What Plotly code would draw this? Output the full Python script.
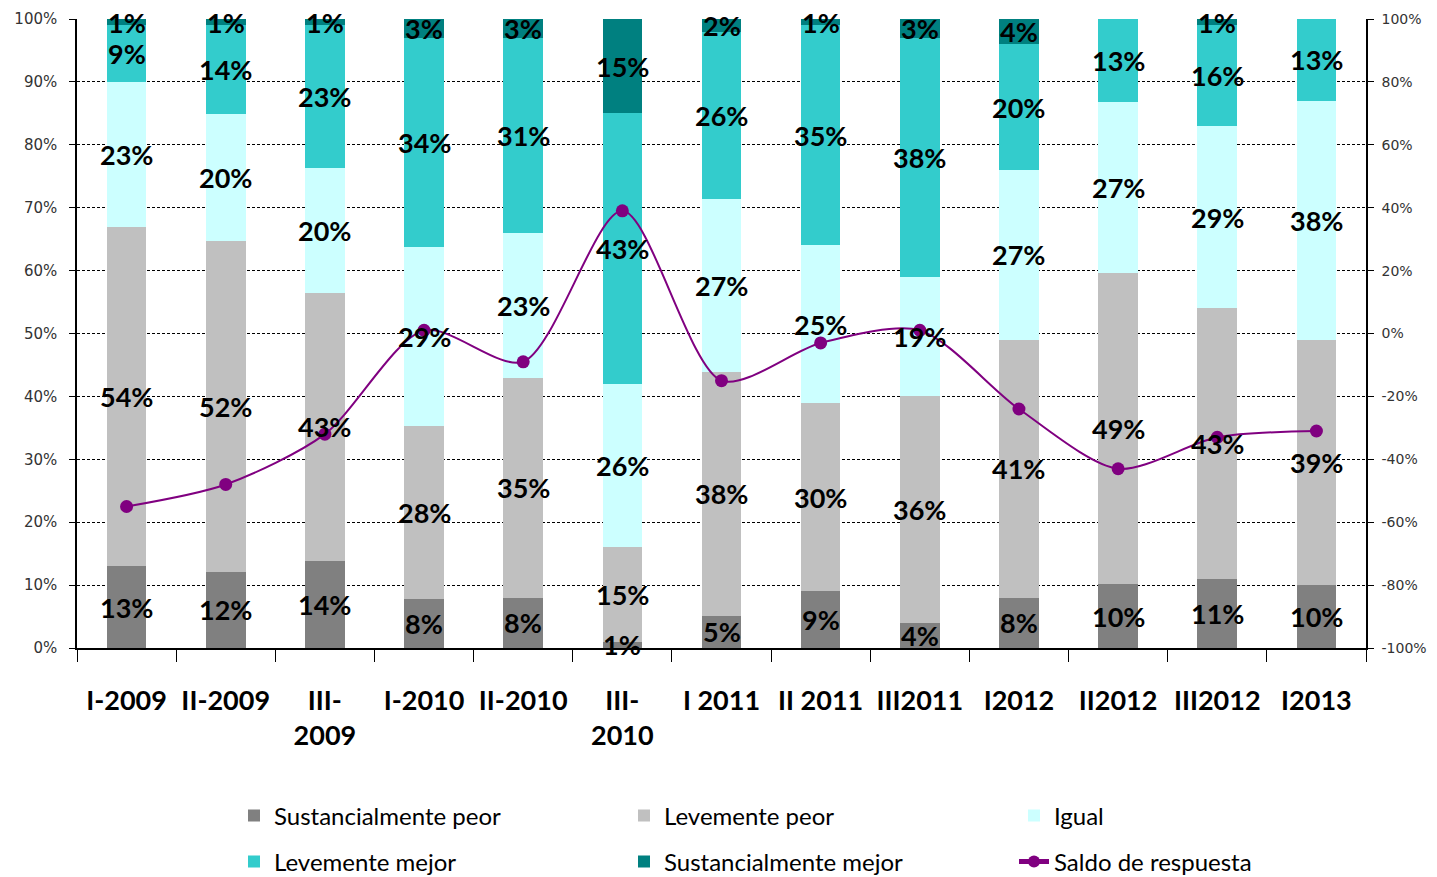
import plotly.graph_objects as go

# Expectativas: distribucion de respuestas por trimestre
periodos = ["I-2009", "II-2009", "III-2009", "I-2010", "II-2010", "III-2010", "I 2011",
            "II 2011", "III2011", "I2012", "II2012", "III2012", "I2013"]
etiquetas_x = ["I-2009", "II-2009", "III-<br>2009", "I-2010", "II-2010", "III-<br>2010", "I 2011",
               "II 2011", "III2011", "I2012", "II2012", "III2012", "I2013"]

sust_peor = [13, 12, 14, 8, 8, 1, 5, 9, 4, 8, 10, 11, 10]
lev_peor = [54, 52, 43, 28, 35, 15, 38, 30, 36, 41, 49, 43, 39]
igual = [23, 20, 20, 29, 23, 26, 27, 25, 19, 27, 27, 29, 38]
lev_mejor = [9, 14, 23, 34, 31, 43, 26, 35, 38, 20, 13, 16, 13]
sust_mejor = [1, 1, 1, 3, 3, 15, 2, 1, 3, 4, 0, 1, 0]

saldo = [-55, -48, -32, 1, -9, 39, -15, -3, 1, -24, -43, -33, -31]

ticks_izq = [0, 10, 20, 30, 40, 50, 60, 70, 80, 90, 100]
ticks_der = [-100, -80, -60, -40, -20, 0, 20, 40, 60, 80, 100]
etiquetas_der = ["-100%", "-80%", "-60%", "-40%", "-20%", "0%", "20%", "40%", "60%", "80%", "100%"]

# nombre, valores, color, leyenda (fila)
series = [
    ("Sustancialmente peor", sust_peor, "#808080", "legend"),
    ("Levemente peor", lev_peor, "#C0C0C0", "legend"),
    ("Igual", igual, "#CCFFFF", "legend"),
    ("Levemente mejor", lev_mejor, "#33CCCC", "legend2"),
    ("Sustancialmente mejor", sust_mejor, "#008080", "legend2"),
]

fig = go.Figure()

for nombre, valores, color, ley in series:
    fig.add_trace(go.Bar(
        name=nombre, x=periodos, y=valores, legend=ley,
        marker=dict(color=color, line=dict(width=0)),
    ))

fig.add_trace(go.Scatter(
    name="Saldo de respuesta", x=periodos, y=saldo, yaxis="y2", legend="legend2",
    mode="lines+markers",
    line=dict(color="#800080", width=2, shape="spline", smoothing=0.8),
    marker=dict(color="#800080", size=13),
    cliponaxis=False,
))

# etiquetas de datos centradas en cada segmento (barras normalizadas a 100%)
for i, p in enumerate(periodos):
    total = sum(s[1][i] for s in series)
    acum = 0
    for nombre, valores, color, ley in series:
        v = valores[i]
        if v > 0:
            fig.add_annotation(
                x=p, y=(acum + v / 2) / total * 100, xref="x", yref="y",
                text=f"{v}%", showarrow=False,
                font=dict(family="Lato", size=27, color="black", weight="bold"),
            )
        acum += v

ley_comun = dict(
    orientation="h", xref="container", yref="container",
    xanchor="left", yanchor="middle",
    entrywidth=345, entrywidthmode="pixels", traceorder="normal",
    font=dict(family="Lato", size=24, color="black"),
    itemsizing="constant", bgcolor="rgba(0,0,0,0)",
)

fig.update_layout(
    width=1429, height=869,
    margin=dict(l=69, r=71, t=11, b=229),
    paper_bgcolor="white", plot_bgcolor="white",
    barmode="stack", barnorm="percent", bargap=0.6,
    font=dict(family="DejaVu Sans", color="#333333"),
    showlegend=True,
    legend=dict(ley_comun, x=226 / 1429, y=1 - 808 / 869),
    legend2=dict(ley_comun, x=226 / 1429, y=1 - 854 / 869),
    xaxis=dict(
        range=[-0.5, 12.5],
        tickmode="array", tickvals=periodos, ticktext=etiquetas_x, tickangle=0,
        tickson="boundaries", ticks="outside", ticklen=12, tickcolor="black",
        showline=True, linecolor="black", linewidth=1.5,
        showgrid=False, automargin=False,
        tickfont=dict(family="Lato", size=27, color="black", weight="bold"),
        ticklabelstandoff=28,
    ),
    yaxis=dict(
        range=[0, 100], tickmode="array", tickvals=ticks_izq,
        ticktext=[f"{v}%" for v in ticks_izq],
        showline=True, linecolor="black", linewidth=1.5,
        ticks="outside", ticklen=6, tickcolor="black",
        showgrid=True, gridcolor="black", gridwidth=1, griddash="3px,2px",
        zeroline=False, automargin=False,
        tickfont=dict(size=15), ticklabelstandoff=9,
    ),
    yaxis2=dict(
        overlaying="y", side="right",
        range=[-100, 100], tickmode="array", tickvals=ticks_der, ticktext=etiquetas_der,
        showline=True, linecolor="black", linewidth=1.5,
        ticks="outside", ticklen=6, tickcolor="black",
        showgrid=False, zeroline=False, automargin=False,
        tickfont=dict(size=14), ticklabelstandoff=5,
    ),
)

fig.write_html("out.html")
